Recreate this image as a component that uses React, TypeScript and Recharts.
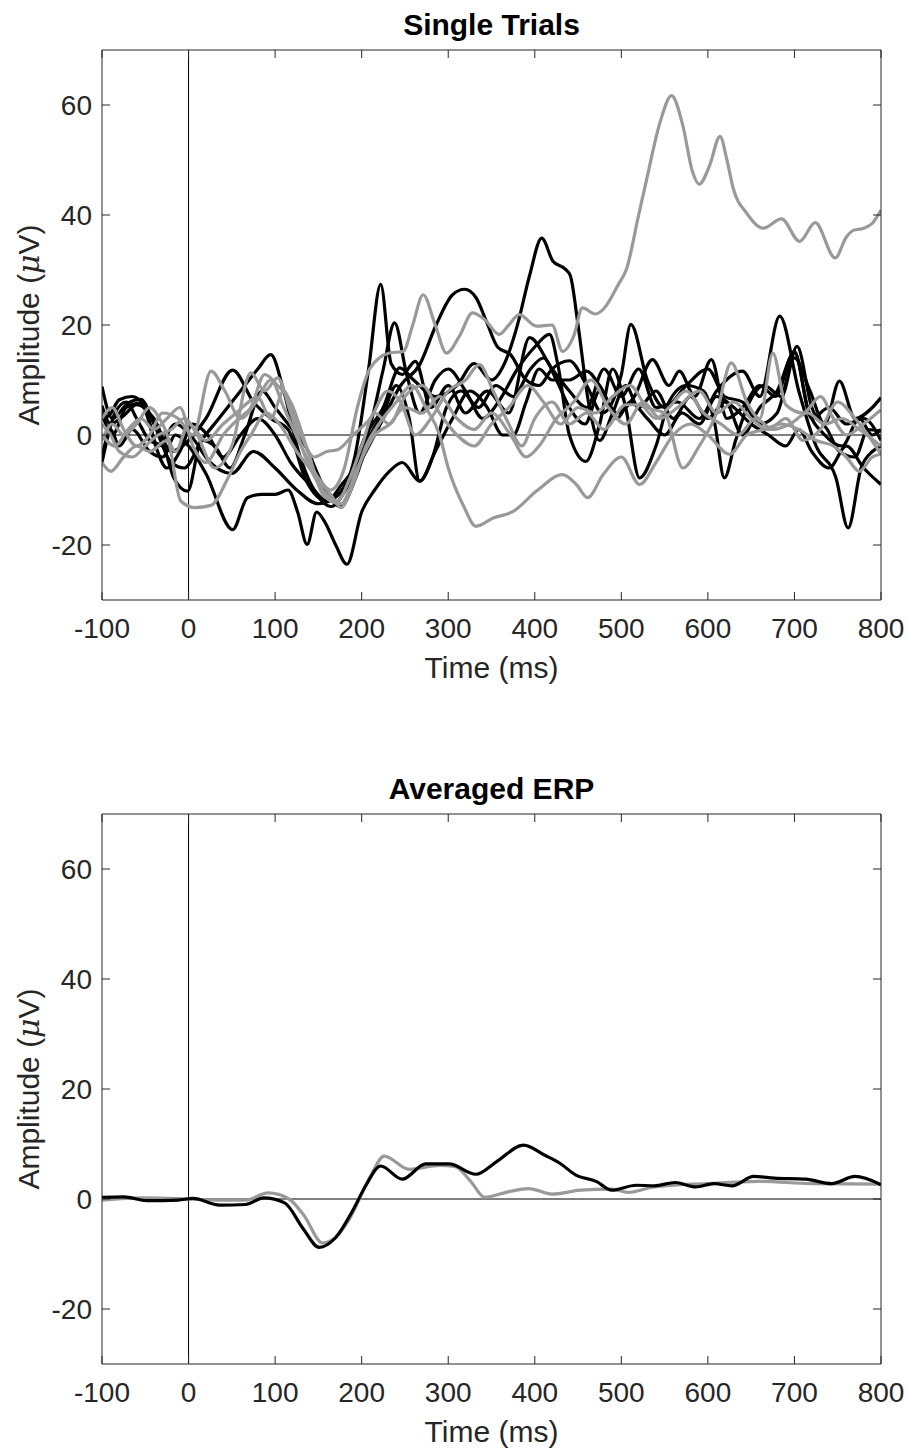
import { LineChart, Line, XAxis, YAxis, ReferenceLine } from 'recharts';

const timeTicks = [-100, 0, 100, 200, 300, 400, 500, 600, 700, 800];
const ampTicks = [-20, 0, 20, 40, 60];

// single trials, condition 1 (black) — [time ms, amplitude uV]
const black1 = [[-100, 4], [-88, 0], [-72, 5], [-55, 5.8], [-35, -2], [-15, 2], [2, 0], [25, -5], [50, -7], [75, -3], [100, -6], [125, -10], [150, -12.5], [172, -11], [192, -4], [208, 12], [222, 27.4], [234, 13], [247, 11], [262, 13.4], [280, 5], [300, 9], [320, 4], [345, 8], [370, 4], [394, 17.7], [420, 12], [440, 8], [460, 5], [480, 12], [500, 7], [520, 12], [540, 5], [565, 6], [590, 3], [610, 8], [640, 11.6], [660, 7], [683, 21.6], [705, 8], [725, -2], [748, -7.8], [762, -16.9], [777, -6], [790, -3], [800, -2]];
const black2 = [[-100, 5.3], [-90, 2], [-75, 3.5], [-60, 5.5], [-40, 3], [-20, -3], [0, -1], [20, 3], [51, 11.8], [75, 6], [95, 3], [115, 1], [135, -8], [160, -12], [185, -8], [205, 0], [225, 5], [244, 12.2], [260, 10], [285, 7], [310, 9], [330, 13], [350, 10], [365, 13], [380, 20], [394, 29], [408, 35.8], [421, 31.6], [435, 30.2], [441, 29], [450, 20], [462, 6], [475, -1], [490, 4], [505, 9], [520, 5], [540, 8], [560, 3], [580, 7], [600, 3], [620, 6], [640, 0], [660, 5], [680, 8], [700, 15], [720, 3], [740, 5], [760, 2], [780, 3], [800, -1]];
const black3 = [[-100, 8.8], [-88, 3], [-70, 5.8], [-55, 6.5], [-40, 2], [-20, -5], [-5, -6], [15, -1], [35, 3], [60, 8], [80, 12], [95, 14.6], [110, 8], [127, -3], [145, -10], [165, -13], [185, -9], [205, -3], [225, 3], [245, 9], [267, 12.8], [286, 20], [305, 25.5], [319, 26.5], [332, 25], [344, 20.7], [357, 16], [372, 14.6], [390, 10], [405, 9], [420, 12], [440, 13.5], [460, 9], [478, 4], [500, 11], [511, 20.1], [530, 10], [550, 5], [575, 9], [600, 12], [619, 7], [640, 6], [660, 2], [680, 4], [700, 14], [718, 8], [735, 2], [752, 9.8], [770, 3], [790, 5], [800, 6.8]];
const black4 = [[-100, -4.2], [-90, 1], [-80, -2], [-65, 1], [-45, -3], [-30, -4], [-15, 0], [0, -2], [20, -7], [51, -17.2], [68, -11.4], [85, -10.8], [100, -10.8], [115, -10], [126, -14], [137, -19.9], [148, -14], [157, -15.7], [170, -20], [183, -23.5], [200, -14], [215, -10], [232, -6.6], [247, -5], [267, -8.4], [285, -3], [305, 3], [325, 8], [345, 5], [363, 0], [375, 0], [390, 6], [405, 12], [420, 10], [440, 10], [460, 11.6], [475, 9], [495, 4], [515, 7], [536, 13.7], [555, 9], [567, 11.6], [585, 7], [604, 13.7], [622, 3], [640, 5], [660, 9], [678, 7], [700, 15.2], [715, 5], [735, 0], [755, -2], [775, 3], [790, 0], [800, 1]];
const black5 = [[-100, 3], [-92, 3.5], [-80, 6.4], [-65, 7], [-50, 5], [-38, -2], [-25, -6], [-10, -3], [5, 2], [22, 0], [40, -4], [60, 0], [80, 3], [100, 0], [118, -5], [140, -9], [160, -12], [177, -9], [195, -5], [212, 3], [225, 12], [238, 20.4], [252, 11], [267, 4], [285, 10], [300, 12], [320, 8], [340, 3], [358, 6], [380, 12], [400, 16], [417, 18.3], [427, 12.5], [440, 0], [459, -4.8], [475, 2], [490, 12], [505, 5], [521, -7.8], [540, -2], [555, 6], [575, 9], [595, 8], [608, 2], [619, -7.8], [632, -1], [648, 6], [665, 9], [685, 7], [703, 16.1], [720, 5], [738, 1], [752, -3], [770, -4], [785, 1], [800, 0.7]];
const black6 = [[-100, -5], [-85, 4], [-72, 6], [-60, 3], [-45, -1], [-30, -2], [-17, -7.8], [-1, -10.2], [15, -1], [30, -2], [48, -6], [65, 0], [85, 8], [100, 5], [115, 2], [135, -2], [155, -9], [175, -13], [195, -7], [210, 0], [225, 4], [240, 9], [255, 3], [267, -8.4], [282, -4], [298, 5], [315, 8], [335, 5], [355, 9], [375, 7], [395, 12], [410, 14], [425, 10], [440, 5], [458, 2], [475, 8], [495, 3], [510, 6], [530, 3], [550, 0], [570, 4], [590, 2], [610, 7], [630, 5], [650, 2], [670, 0], [690, -2], [705, 1], [720, -3], [740, -6], [760, -2], [780, -6], [800, -9]];

// single trials, condition 2 (gray)
const gray1 = [[-100, 3], [-88, 5], [-75, 1], [-60, -2], [-45, 0], [-30, 4], [-12, 3], [5, 0], [26, 11.6], [42, 8], [60, 3], [78, 6], [95, 10], [110, 5], [130, -2], [150, -7.8], [164, -10], [180, -6], [195, 5], [210, 12.2], [232, 14.9], [248, 15.2], [259, 20], [271, 25.5], [285, 20], [298, 14.9], [313, 18], [328, 22.2], [342, 21], [359, 18.3], [370, 20], [382, 21.9], [402, 19.8], [420, 20], [432, 15.2], [445, 18], [455, 23.1], [470, 22], [480, 23], [497, 27.5], [506, 30.2], [520, 40], [529, 46.3], [545, 57], [558, 61.7], [571, 56.3], [582, 48], [590, 45.6], [602, 49], [614, 54.3], [622, 50], [629, 45], [645, 40.3], [664, 37.6], [685, 39.3], [706, 35.2], [724, 38.6], [747, 32.2], [760, 36], [768, 37.2], [780, 37.6], [790, 38.5], [800, 40.9]];
const gray2 = [[-100, -5], [-90, -6.6], [-75, -4], [-60, -2], [-45, -3], [-25, -1], [-9, -12], [7, -13.2], [26, -12.8], [45, -8], [60, -3], [72, 0], [90, 4], [105, 2], [125, -3], [149, -7.8], [165, -11], [176, -13.2], [190, -9], [205, -2], [220, 2], [240, 6], [258, 9], [274, 5], [290, 0], [300, -6], [318, -13], [332, -16.6], [352, -15.1], [375, -13.9], [402, -10.2], [432, -7.2], [448, -9], [461, -11.4], [479, -7.2], [500, -4], [521, -9], [540, -5], [560, 0], [580, 2], [600, 0], [625, -3.5], [645, 0], [665, 1], [685, 2], [705, 1], [725, -1], [745, -2], [760, -4], [775, -6.6], [790, -4], [800, -3.5]];
const gray3 = [[-100, 2], [-90, 0], [-80, -3], [-65, -4], [-50, -2], [-35, 0], [-20, 1], [-5, 3], [10, 0], [30, -6], [50, -2], [72, 11.3], [88, 8], [103, 10.4], [118, 4], [135, -4], [155, -10], [172, -12], [186, -8], [200, -2], [215, 4], [232, 2], [250, 7], [270, 9], [290, 4], [310, 0], [330, -2], [350, 2], [370, 5], [392, 9], [410, 6], [430, 2], [450, 5], [470, 4], [490, 7], [510, 9], [530, 5], [550, 4], [571, -6], [590, -2], [610, 4], [627, 13.1], [645, 6], [660, 3], [675, 14.9], [690, 5.5], [710, 4], [730, 7], [745, 3], [760, 0], [780, 2], [800, 4.6]];
const gray4 = [[-100, -1], [-88, 2], [-75, 0], [-60, 2], [-45, 5], [-30, 2], [-15, -3], [0, 2], [20, -1], [40, 2], [55, 4], [80, 6.8], [95, 3], [110, 8], [125, 2], [145, -4], [160, -3], [172, -2.7], [190, 0], [210, 3], [230, 8], [245, 6], [262, 0], [280, 3], [300, 8], [320, 10], [336, 12.8], [352, 8], [370, 2], [385, -2], [400, 3], [420, 6], [440, 2], [460, 4], [480, 1], [505, 5.5], [521, 5.5], [540, 3], [555, 5], [575, 8], [595, 4], [615, 2], [635, 0], [655, 3], [675, 1], [695, 2], [715, 4], [735, 2], [755, 3], [775, 1], [800, -2]];
const gray5 = [[-100, 0], [-85, -2], [-70, 1], [-55, 3], [-40, 1], [-25, 3], [-10, 5], [5, -2], [20, -5], [40, 0], [58, 3], [72, 5], [88, 11], [103, 9], [118, 6], [138, -3], [156, -11], [176, -12.5], [195, -6], [215, 0], [232, 1.9], [250, 5], [270, 4], [290, 7], [310, 3], [330, 1], [350, 4], [372, 0], [390, -4], [405, -2], [425, 3], [445, 6], [465, 10], [485, 5], [505, 2], [525, 6], [545, 3], [565, 5], [590, 8], [610, 4], [630, 6], [650, 3], [670, 1], [690, 3], [710, -1], [730, 1], [750, 6], [770, 3], [785, 0], [800, -3.5]];

// averaged ERPs
const avgBlack = [[-100, 0.3], [-75, 0.4], [-48, -0.3], [-12, -0.2], [5, 0.1], [36, -1.1], [66, -1], [87, 0.2], [111, -0.7], [132, -5.3], [151, -8.8], [170, -7], [190, -2], [205, 2.5], [222, 6], [247, 3.6], [274, 6.4], [301, 6.4], [332, 4.5], [356, 6.8], [387, 9.8], [411, 8], [429, 6.5], [447, 4.4], [471, 3.2], [489, 1.6], [517, 2.5], [538, 2.4], [562, 3], [586, 2.2], [607, 2.8], [628, 2.4], [653, 4.1], [677, 3.8], [713, 3.6], [743, 2.8], [770, 4.1], [800, 2.6]];
const avgGray = [[-100, -0.2], [-54, 0.2], [0, 0], [36, -0.2], [66, -0.2], [92, 1.1], [116, 0], [133, -2.9], [155, -8], [170, -7], [186, -3.6], [211, 4.4], [226, 7.8], [255, 5.4], [290, 6.1], [308, 5.9], [326, 3.2], [342, 0.3], [369, 1.3], [393, 1.9], [420, 0.9], [453, 1.6], [489, 1.8], [508, 1.2], [538, 2.2], [598, 2.8], [659, 3.2], [719, 2.8], [800, 2.7]];

const topBack = [black1, black2, black3, black4, black5, black6];
const topFront = [gray1, gray2, gray3, gray4, gray5];

const BLACK = '#000000';
const GRAY = '#999999';
const AXIS = '#262626';

const toPts = (arr: number[][]) => arr.map(([t, v]) => ({ t, v }));
const noLabel = () => <g />;

function TimeLabel(props: any) {
  const { viewBox } = props;
  return (
    <text x={viewBox.x + viewBox.width / 2} y={viewBox.y + 78} textAnchor="middle" fontSize={30} fill={AXIS}>
      Time (ms)
    </text>
  );
}

function AmpLabel(props: any) {
  const { viewBox } = props;
  const x = viewBox.x + 28;
  const y = viewBox.y + viewBox.height / 2;
  return (
    <text x={x} y={y} transform={`rotate(-90 ${x} ${y})`} textAnchor="middle" dominantBaseline="central" fontSize={30} fill={AXIS}>
      Amplitude (<tspan fontStyle="italic" fontFamily="'DejaVu Serif', serif">μ</tspan>V)
    </text>
  );
}

function Panel({ title, series, top, height, bottom }: { title: string; series: { pts: number[][]; color: string }[]; top: number; height: number; bottom: number }) {
  return (
    <div style={{ position: 'absolute', left: 0, top, width: 909, height }}>
      <svg width={909} height={50} style={{ position: 'absolute', left: 0, top: 0 }}>
        <text x={491.5} y={35} textAnchor="middle" fontSize={30} fontWeight="bold" fill="#000">
          {title}
        </text>
      </svg>
      <LineChart width={909} height={height} margin={{ top: 49, right: 27, bottom, left: 0 }}>
        <XAxis
          xAxisId="b"
          type="number"
          dataKey="t"
          domain={[-100, 800]}
          ticks={timeTicks}
          interval={0}
          allowDataOverflow
          height={60}
          stroke={AXIS}
          tickSize={-8}
          tickLine={{ stroke: AXIS }}
          tickMargin={26}
          tick={{ fontSize: 28, fill: AXIS }}
          label={<TimeLabel />}
        />
        <XAxis
          xAxisId="t"
          orientation="top"
          type="number"
          dataKey="t"
          domain={[-100, 800]}
          ticks={timeTicks}
          interval={0}
          allowDataOverflow
          height={1}
          stroke={AXIS}
          tickSize={-8}
          tickLine={{ stroke: AXIS }}
          tick={noLabel}
        />
        <YAxis
          yAxisId="l"
          type="number"
          domain={[-30, 70]}
          ticks={ampTicks}
          interval={0}
          allowDataOverflow
          width={102}
          stroke={AXIS}
          tickSize={-8}
          tickLine={{ stroke: AXIS }}
          tickMargin={18}
          tick={{ fontSize: 28, fill: AXIS }}
          label={<AmpLabel />}
        />
        <YAxis
          yAxisId="r"
          orientation="right"
          type="number"
          domain={[-30, 70]}
          ticks={ampTicks}
          interval={0}
          allowDataOverflow
          width={1}
          stroke={AXIS}
          tickSize={-8}
          tickLine={{ stroke: AXIS }}
          tick={noLabel}
        />
        <ReferenceLine xAxisId="b" yAxisId="l" y={0} stroke="#000" strokeWidth={1} />
        <ReferenceLine xAxisId="b" yAxisId="l" x={0} stroke="#000" strokeWidth={1} />
        {series.map((s, i) => (
          <Line
            key={i}
            xAxisId="b"
            yAxisId="l"
            data={toPts(s.pts)}
            dataKey="v"
            type="monotone"
            stroke={s.color}
            strokeWidth={3.2}
            dot={false}
            activeDot={false}
            isAnimationActive={false}
          />
        ))}
      </LineChart>
    </div>
  );
}

export default function App() {
  const topSeries = [
    ...topBack.map((pts) => ({ pts, color: BLACK })),
    ...topFront.map((pts) => ({ pts, color: GRAY })),
  ];
  const bottomSeries = [
    { pts: avgGray, color: GRAY },
    { pts: avgBlack, color: BLACK },
  ];
  return (
    <div style={{ position: 'absolute', left: 0, top: 0, width: 909, height: 1452, background: '#fff', fontFamily: "'Liberation Sans', Arial, Helvetica, sans-serif" }}>
      <Panel title="Single Trials" series={topSeries} top={0} height={700} bottom={40} />
      <Panel title="Averaged ERP" series={bottomSeries} top={764} height={688} bottom={28} />
    </div>
  );
}
